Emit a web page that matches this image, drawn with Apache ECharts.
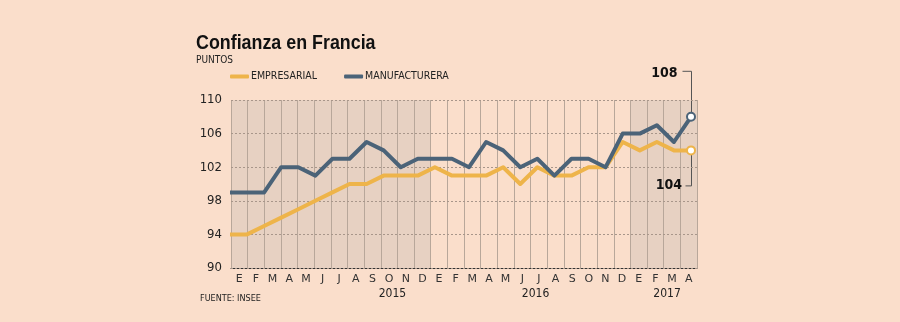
<!DOCTYPE html>
<html><head><meta charset="utf-8">
<script src="https://cdn.jsdelivr.net/npm/echarts@6/dist/echarts.min.js"></script>
<style>html,body{margin:0;padding:0;background:#fadecb}#c{width:900px;height:322px}</style>
</head><body><div id="c"></div>
<script>
// ---- data ----
const months = ['E','F','M','A','M','J','J','A','S','O','N','D',
                'E','F','M','A','M','J','J','A','S','O','N','D',
                'E','F','M','A'];
const years = ['2015','2016','2017'];
const monthsPerYear = [12, 12, 4];
const shadedYears = ['2015','2017'];
const empresarial = [94,94,95,96,97,98,99,100,100,101,101,101,
                     102,101,101,101,102,100,102,101,101,102,102,105,
                     104,105,104,104];
const manufacturera = [99,99,99,102,102,101,103,103,105,104,102,103,
                       103,103,102,105,104,102,103,101,103,103,102,106,
                       106,107,105,108];
const seriesNames = ['EMPRESARIAL','MANUFACTURERA'];
const yMin = 90, yMax = 110, yStep = 4;

// ---- styling ----
const BG = '#fadecb', SHADE = '#e7d1c2';
const COL_E = '#eeb44a', COL_M = '#4b6378';
const SANS = '"Liberation Sans",Arial,sans-serif';
const COND = '"DejaVu Sans Condensed","DejaVu Sans",sans-serif';

const yearOf = [];
years.forEach((y, k) => { for (let i = 0; i < monthsPerYear[k]; i++) yearOf.push(y); });
const bandColors = yearOf.map(y => shadedYears.includes(y) ? SHADE : 'rgba(0,0,0,0)');

function withEndSymbol(arr, color) {
  return arr.map((v, i) => i === arr.length - 1
    ? { value: v, symbol: 'circle', symbolSize: 8,
        itemStyle: { color: '#ffffff', borderColor: color, borderWidth: 2 } }
    : v);
}

const chart = echarts.init(document.getElementById('c'), null, { renderer: 'canvas' });
chart.setOption({
  backgroundColor: BG,
  animation: false,
  grid: [
    { left: 231, right: 203, top: 100, bottom: 54 },
    { left: 230, right: 209, top: 100, bottom: 54 }
  ],
  legend: {
    data: seriesNames, left: 230, top: 71, padding: 0, itemWidth: 19, itemHeight: 4,
    itemGap: 27, icon: 'roundRect', selectedMode: false,
    textStyle: { fontSize: 10.5, fontFamily: COND, color: '#222', padding: [0, 0, 0, -3] }
  },
  xAxis: [
    { type: 'category', gridIndex: 0, data: months, boundaryGap: true, z: 0,
      axisLine: { lineStyle: { color: '#333', width: 1 } },
      axisTick: { show: false },
      axisLabel: { interval: 0, margin: 6, fontSize: 11, color: '#333', fontFamily: '"DejaVu Sans",sans-serif' },
      splitLine: { show: true, interval: 0, lineStyle: { color: '#b8a79a', width: 1 } },
      splitArea: { show: true, interval: 0, areaStyle: { color: bandColors } } },
    { type: 'category', gridIndex: 1, data: months, boundaryGap: false, show: false }
  ],
  yAxis: [
    { type: 'value', gridIndex: 0, min: yMin, max: yMax, interval: yStep, z: 1,
      axisLine: { show: false }, axisTick: { show: false },
      axisLabel: { margin: 9, fontSize: 13, color: '#222', fontFamily: COND },
      splitLine: { lineStyle: { type: [2, 2], color: '#a8968a', width: 1 } } },
    { type: 'value', gridIndex: 1, min: yMin, max: yMax, show: false }
  ],
  series: [
    { name: seriesNames[0], type: 'line', xAxisIndex: 1, yAxisIndex: 1,
      data: withEndSymbol(empresarial, COL_E), symbol: 'none', color: COL_E,
      lineStyle: { width: 4, color: COL_E, join: 'round' }, z: 3 },
    { name: seriesNames[1], type: 'line', xAxisIndex: 1, yAxisIndex: 1,
      data: withEndSymbol(manufacturera, COL_M), symbol: 'none', color: COL_M,
      lineStyle: { width: 4, color: COL_M, join: 'round' }, z: 4 }
  ]
});

// annotations anchored to last points through the library's scales
const last = months.length - 1;
const pM = chart.convertToPixel({ seriesIndex: 1 }, [last, manufacturera[last]]);
const pE = chart.convertToPixel({ seriesIndex: 0 }, [last, empresarial[last]]);
const yearCenterIdx = [9.2, 17.8, 25.7];
const x0 = chart.convertToPixel({ xAxisIndex: 0 }, 0);
const bw = chart.convertToPixel({ xAxisIndex: 0 }, 1) - x0;
const yearX = yearCenterIdx.map(ix => x0 + ix * bw);

const graphics = [
  { type: 'text', x: 196, y: 33, scaleX: 0.85, style: { text: 'Confianza en Francia', font: 'bold 21px ' + SANS, fill: '#111' } },
  { type: 'text', left: 196, top: 55, style: { text: 'PUNTOS', font: '10px ' + COND, fill: '#222' } },
  { type: 'text', left: 200, top: 294, style: { text: 'FUENTE: INSEE', font: '9px ' + COND, fill: '#222' } },
  { type: 'text', x: pM[0] - 13.5, y: pM[1] - 43.5, style: { text: String(manufacturera[last]), font: 'bold 14px ' + COND, fill: '#111', textAlign: 'right', textVerticalAlign: 'middle' } },
  { type: 'polyline', shape: { points: [[pM[0] - 8.5, pM[1] - 45.5], [pM[0] + 0.5, pM[1] - 45.5], [pM[0] + 0.5, pM[1] - 4]] }, style: { stroke: '#555', lineWidth: 1, fill: null } },
  { type: 'text', x: pE[0] - 9, y: pE[1] + 34.5, style: { text: String(empresarial[last]), font: 'bold 14px ' + COND, fill: '#111', textAlign: 'right', textVerticalAlign: 'middle' } },
  { type: 'polyline', shape: { points: [[pE[0] + 0.5, pE[1] + 4], [pE[0] + 0.5, pE[1] + 35.5], [pE[0] - 5.5, pE[1] + 35.5]] }, style: { stroke: '#555', lineWidth: 1, fill: null } }
];
years.forEach((y, k) => {
  graphics.push({ type: 'text', x: yearX[k], y: 293.5, style: { text: y, font: '12px ' + COND, fill: '#222', textAlign: 'center', textVerticalAlign: 'middle' } });
});
chart.setOption({ graphic: graphics });
</script>
</body></html>
